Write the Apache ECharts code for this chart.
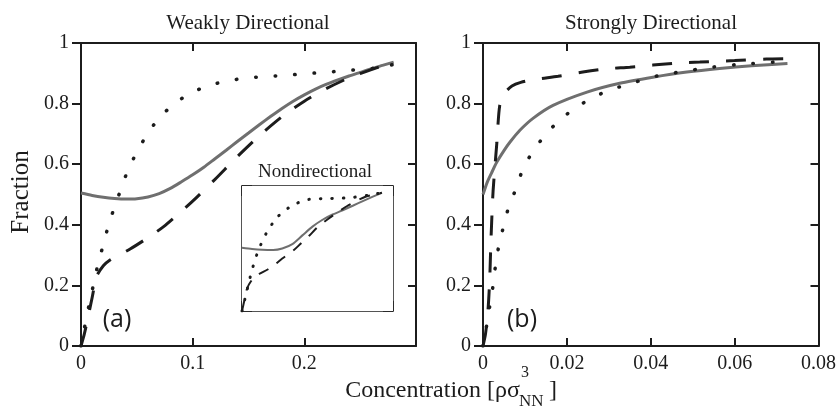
<!DOCTYPE html>
<html>
<head>
<meta charset="utf-8">
<script src="https://cdn.jsdelivr.net/npm/echarts@6/dist/echarts.min.js"></script>
<style>
html,body{margin:0;padding:0;background:#fff;}
#chart{width:839px;height:410px;}
</style>
</head>
<body>
<div id="chart"></div>
<script>
// ---------- Data ----------
// Panel (a) Weakly Directional
const solidA_x = [0, 0.01, 0.02, 0.03, 0.04, 0.05, 0.06, 0.07, 0.08, 0.09, 0.1, 0.11, 0.12, 0.13, 0.14, 0.15, 0.16, 0.17, 0.18, 0.19, 0.2, 0.21, 0.22, 0.23, 0.24, 0.25, 0.26, 0.27, 0.28];
const solidA_y = [0.505, 0.497, 0.491, 0.487, 0.485, 0.486, 0.492, 0.503, 0.52, 0.542, 0.565, 0.59, 0.618, 0.646, 0.675, 0.703, 0.731, 0.758, 0.784, 0.808, 0.829, 0.848, 0.864, 0.878, 0.891, 0.903, 0.915, 0.926, 0.937];
const dottedA_x = [0, 0.0036, 0.0072, 0.011, 0.015, 0.02, 0.024, 0.03, 0.036, 0.042, 0.05, 0.059, 0.069, 0.082, 0.096, 0.113, 0.13, 0.147, 0.164, 0.182, 0.199, 0.217, 0.235, 0.253, 0.271, 0.28];
const dottedA_y = [0, 0.07, 0.135, 0.2, 0.267, 0.335, 0.39, 0.459, 0.52, 0.58, 0.64, 0.697, 0.748, 0.795, 0.83, 0.858, 0.874, 0.884, 0.889, 0.893, 0.898, 0.903, 0.908, 0.914, 0.92, 0.93];
const dashedA_x = [0, 0.003, 0.006, 0.01, 0.014, 0.02, 0.026, 0.035, 0.044, 0.061, 0.074, 0.087, 0.1, 0.12, 0.14, 0.16, 0.18, 0.2, 0.22, 0.24, 0.26, 0.28];
const dashedA_y = [0, 0.04, 0.09, 0.16, 0.23, 0.265, 0.284, 0.302, 0.32, 0.36, 0.394, 0.435, 0.478, 0.55, 0.625, 0.695, 0.757, 0.808, 0.85, 0.885, 0.912, 0.937];

// Inset (Nondirectional)
const solidI_x = [0, 0.02, 0.04, 0.062, 0.08, 0.1, 0.12, 0.14, 0.16, 0.18, 0.2, 0.22, 0.24, 0.26, 0.278];
const solidI_y = [0.506, 0.496, 0.49, 0.488, 0.5, 0.535, 0.605, 0.675, 0.73, 0.772, 0.806, 0.842, 0.879, 0.915, 0.946];
const dottedI_x = [0, 0.006, 0.012, 0.02, 0.032, 0.048, 0.07, 0.1, 0.133, 0.171, 0.21, 0.25, 0.278];
const dottedI_y = [0, 0.1, 0.2, 0.33, 0.48, 0.62, 0.75, 0.845, 0.893, 0.9, 0.905, 0.925, 0.946];
const dashedI_x = [0, 0.005, 0.01, 0.02, 0.034, 0.05, 0.064, 0.08, 0.101, 0.117, 0.133, 0.15, 0.171, 0.19, 0.209, 0.226, 0.244, 0.26, 0.278];
const dashedI_y = [0, 0.09, 0.18, 0.25, 0.296, 0.33, 0.368, 0.42, 0.48, 0.54, 0.6, 0.67, 0.736, 0.79, 0.84, 0.878, 0.912, 0.93, 0.946];

// Panel (b) Strongly Directional
const solidB_x = [0, 0.001, 0.002, 0.0033, 0.005, 0.0065, 0.0088, 0.012, 0.0167, 0.0248, 0.0326, 0.0405, 0.0486, 0.0564, 0.064, 0.0726];
const solidB_y = [0.5, 0.54, 0.57, 0.607, 0.645, 0.674, 0.712, 0.752, 0.794, 0.838, 0.867, 0.887, 0.904, 0.916, 0.925, 0.932];
const dottedB_x = [0, 0.0009, 0.0017, 0.0024, 0.003, 0.0038, 0.005, 0.0062, 0.0079, 0.0096, 0.012, 0.0148, 0.0181, 0.0219, 0.026, 0.0302, 0.0348, 0.0393, 0.044, 0.0488, 0.0533, 0.06, 0.0726];
const dottedB_y = [0, 0.07, 0.14, 0.2, 0.267, 0.333, 0.4, 0.462, 0.52, 0.587, 0.644, 0.696, 0.743, 0.785, 0.818, 0.845, 0.864, 0.884, 0.898, 0.908, 0.918, 0.928, 0.94];
const dashedB_x = [0, 0.0006, 0.0012, 0.0016, 0.0019, 0.0024, 0.0033, 0.004, 0.0052, 0.0069, 0.009, 0.0124, 0.0179, 0.0238, 0.0295, 0.035, 0.0405, 0.0465, 0.0517, 0.06, 0.0676, 0.0726];
const dashedB_y = [0, 0.04, 0.12, 0.22, 0.35, 0.51, 0.67, 0.795, 0.835, 0.858, 0.87, 0.88, 0.89, 0.904, 0.915, 0.92, 0.927, 0.934, 0.937, 0.942, 0.947, 0.948];

// Tick labels
const xTicksA = ['0', '0.1', '0.2'];
const xTicksB = ['0', '0.02', '0.04', '0.06', '0.08'];
const yTicks = ['0', '0.2', '0.4', '0.6', '0.8', '1'];

// ---------- Chart ----------
const SERIF_CSS = '"Liberation Serif", serif';
const INK = '#1c1c1c';
const GRAY = '#6f6f6f';

function pairs(xs, ys) { return xs.map((x, i) => [x, ys[i]]); }

function labelFrom(list, step) {
  return function (v) {
    const i = Math.round(v / step);
    return list[i] !== undefined ? list[i] : '';
  };
}

function makeAxes(gi, xmax, xint, xlabels, opts) {
  const lw = opts.lw, tl = opts.tl, showLab = opts.labels;
  const lineStyle = { color: INK, width: lw };
  const labStyle = { fontFamily: 'Liberation Serif', fontSize: 20, color: INK, fontWeight: 'normal' };
  const xs = [
    { type: 'value', gridIndex: gi, position: 'bottom', min: 0, max: xmax, interval: xint,
      axisLine: { show: true, onZero: false, lineStyle },
      axisTick: { show: true, inside: true, length: tl, lineStyle },
      axisLabel: Object.assign({ show: showLab, margin: 8, showMaxLabel: true,
                   formatter: xlabels ? labelFrom(xlabels, xint) : '' }, labStyle),
      splitLine: { show: false } },
    { type: 'value', gridIndex: gi, position: 'top', min: 0, max: xmax, interval: xint,
      axisLine: { show: true, onZero: false, lineStyle },
      axisTick: { show: true, inside: true, length: tl, lineStyle },
      axisLabel: { show: false }, splitLine: { show: false } }
  ];
  const ys = [
    { type: 'value', gridIndex: gi, position: 'left', min: 0, max: 1, interval: 0.2,
      axisLine: { show: true, onZero: false, lineStyle },
      axisTick: { show: true, inside: opts.leftInside, length: opts.leftInside ? tl : tl + 1, lineStyle },
      axisLabel: Object.assign({ show: showLab, margin: 12, formatter: labelFrom(yTicks, 0.2) }, labStyle),
      splitLine: { show: false } },
    { type: 'value', gridIndex: gi, position: 'right', min: 0, max: 1, interval: 0.2,
      axisLine: { show: true, onZero: false, lineStyle },
      axisTick: { show: true, inside: true, length: tl, lineStyle },
      axisLabel: { show: false }, splitLine: { show: false } }
  ];
  return { xs, ys };
}

const A = makeAxes(0, 0.3, 0.1, xTicksA, { lw: 2, tl: 8, labels: true, leftInside: false });
const B = makeAxes(1, 0.08, 0.02, xTicksB, { lw: 2, tl: 8, labels: true, leftInside: false });
const I = makeAxes(2, 0.3, 0.1, null, { lw: 1.5, tl: 10, labels: false, leftInside: true });

const xAxis = [...A.xs, ...B.xs, ...I.xs];
const yAxis = [...A.ys, ...B.ys, ...I.ys];

function ser(name, xi, yi, data, kind, thin) {
  const base = { type: 'line', name, xAxisIndex: xi, yAxisIndex: yi, data, showSymbol: false,
                 symbol: 'none', smooth: 0.25, animation: false, silent: true, z: 3 };
  if (kind === 'solid') {
    base.lineStyle = { color: GRAY, width: thin ? 2 : 3, type: 'solid' };
  } else if (kind === 'dashed') {
    base.lineStyle = { color: INK, width: thin ? 2 : 3, type: thin ? [11, 10] : [20, 17], cap: 'butt' };
    base.z = 4;
  } else {
    base.lineStyle = { color: INK, width: thin ? 3 : 3.5, type: thin ? [0.5, 11] : [0.5, 19], cap: 'round' };
  }
  return base;
}

const series = [
  ser('solidA', 0, 0, pairs(solidA_x, solidA_y), 'solid'),
  ser('dottedA', 0, 0, pairs(dottedA_x, dottedA_y), 'dotted'),
  ser('dashedA', 0, 0, pairs(dashedA_x, dashedA_y), 'dashed'),
  ser('solidB', 2, 2, pairs(solidB_x, solidB_y), 'solid'),
  ser('dottedB', 2, 2, pairs(dottedB_x, dottedB_y), 'dotted'),
  ser('dashedB', 2, 2, pairs(dashedB_x, dashedB_y), 'dashed'),
  ser('solidI', 4, 4, pairs(solidI_x, solidI_y), 'solid', true),
  ser('dottedI', 4, 4, pairs(dottedI_x, dottedI_y), 'dotted', true),
  ser('dashedI', 4, 4, pairs(dashedI_x, dashedI_y), 'dashed', true)
];

const grid = [
  { left: 81, top: 43, width: 335, height: 303, containLabel: false },
  { left: 483, top: 43, width: 336, height: 303, containLabel: false },
  { left: 242, top: 186, width: 151, height: 125, containLabel: false, show: true, backgroundColor: '#fff', borderWidth: 0, z: 2 }
];

function txt(text, x, y, font, extra) {
  return Object.assign({ type: 'text', x, y, z: 10, silent: true,
    style: { text, font, fill: INK, textAlign: 'center', textVerticalAlign: 'middle' } }, extra || {});
}

const graphic = [
  txt('Weakly Directional', 248, 23, '21px ' + SERIF_CSS),
  txt('Strongly Directional', 651, 23, '21px ' + SERIF_CSS),
  txt('Nondirectional', 315, 172, '19px ' + SERIF_CSS),
  txt('Fraction', 21, 192, '25px ' + SERIF_CSS, { rotation: Math.PI / 2 }),
  txt('(a)', 117, 320, '25px "Open Sans", sans-serif'),
  txt('(b)', 522, 320, '25px "Open Sans", sans-serif'),
  { type: 'text', x: 520, y: 391, z: 10, silent: true,
    style: { text: 'Concentration [ρσ', font: '24px ' + SERIF_CSS, fill: INK, textAlign: 'right', textVerticalAlign: 'middle' } },
  { type: 'text', x: 521, y: 373, z: 10, silent: true,
    style: { text: '3', font: '16px ' + SERIF_CSS, fill: INK, textAlign: 'left', textVerticalAlign: 'middle' } },
  { type: 'text', x: 519, y: 402, z: 10, silent: true,
    style: { text: 'NN', font: '17px ' + SERIF_CSS, fill: INK, textAlign: 'left', textVerticalAlign: 'middle' } },
  { type: 'text', x: 549, y: 391, z: 10, silent: true,
    style: { text: ']', font: '24px ' + SERIF_CSS, fill: INK, textAlign: 'left', textVerticalAlign: 'middle' } }
];

const chart = echarts.init(document.getElementById('chart'), null, { renderer: 'canvas' });
chart.setOption({
  animation: false,
  backgroundColor: '#fff',
  textStyle: { fontFamily: 'Liberation Serif' },
  grid, xAxis, yAxis, series, graphic
});
</script>
</body>
</html>
